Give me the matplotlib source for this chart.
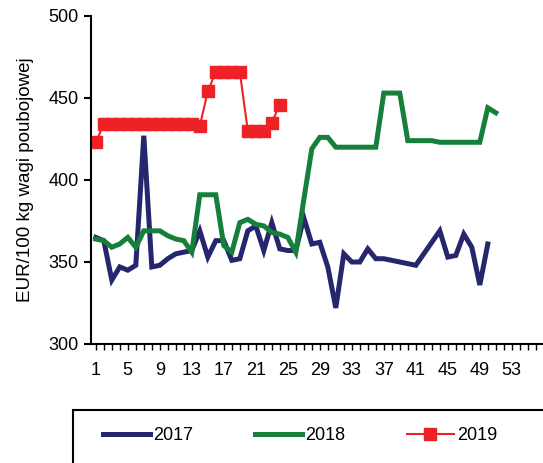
import matplotlib.pyplot as plt
import numpy as np
from matplotlib.patches import Rectangle

plt.rcParams['font.family'] = ['Liberation Sans', 'DejaVu Sans']

# tygodniowe ceny, EUR/100 kg wagi poubojowej
ceny_2017 = [365, 363, 339, 347, 345, 348, 427, 347, 348, 352,
             355, 356, 357, 369, 353, 363, 363, 351, 352, 369,
             372, 357, 374, 358, 357, 357, 377, 361, 362, 347,
             322, 355, 350, 350, 358, 352, 352, 351, 350, 349,
             348, 355, 362, 369, 353, 354, 367, 359, 336, 361]
ceny_2018 = [364, 363, 359, 361, 365, 359, 369, 369, 369, 366,
             364, 363, 356, 391, 391, 391, 360, 356, 374, 376,
             373, 372, 368, 367, 365, 356, 388, 419, 426, 426,
             420, 420, 420, 420, 420, 420, 453, 453, 453, 424,
             424, 424, 424, 423, 423, 423, 423, 423, 423, 444, 441]
ceny_2019 = [423, 434, 434, 434, 434, 434, 434, 434, 434, 434,
             434, 434, 434, 433, 454, 466, 466, 466, 466, 430,
             430, 430, 435, 446]

tyg_2017 = np.arange(1, len(ceny_2017) + 1)
tyg_2018 = np.arange(1, len(ceny_2018) + 1)
tyg_2019 = np.arange(1, len(ceny_2019) + 1)

fig = plt.figure(figsize=(5.43, 4.63), dpi=100)
ax = fig.add_axes([91/543, 1 - 344/463, 1 - 91/543, (344 - 16)/463])

ax.plot(tyg_2017, ceny_2017, color='#25266e', lw=3.6, label='2017', solid_joinstyle='miter')
ax.plot(tyg_2018, ceny_2018, color='#16803a', lw=3.6, label='2018', solid_joinstyle='miter')
ax.plot(tyg_2019, ceny_2019, color='#ee2226', lw=1.5, marker='s', ms=9, mec='#ee2226', label='2019')

ax.set_ylim(300, 500)
ax.set_yticks([300, 350, 400, 450, 500])
ax.set_xlim(0.4, 56.9)
ax.set_xticks(np.arange(1, 54, 4))
ax.set_xticks(np.arange(1, 57), minor=True)

ax.spines['top'].set_visible(False)
ax.spines['right'].set_visible(False)
ax.spines['left'].set_linewidth(1.5)
ax.spines['bottom'].set_linewidth(1.5)
ax.tick_params(axis='y', which='major', direction='out', length=5, width=1.5, labelsize=13, pad=4)
ax.tick_params(axis='x', which='both', direction='out', length=4, width=1, labelsize=13, pad=9)

ax.set_ylabel('EUR/100 kg wagi poubojowej', fontsize=13.5, labelpad=10)

# ramka legendy pod wykresem
fig.patches.append(Rectangle((73/543, -0.1), 1.0, 1 - 410/463 + 0.1,
                             transform=fig.transFigure, fill=False,
                             edgecolor='black', lw=1.5))
fig.legend(loc='center left', bbox_to_anchor=(103/543, 1 - 436/463), ncol=3,
           frameon=False, fontsize=13, handlelength=2.6, handletextpad=0.2,
           columnspacing=3.4, borderpad=0, borderaxespad=0)

fig.savefig('out.png', dpi=100)
